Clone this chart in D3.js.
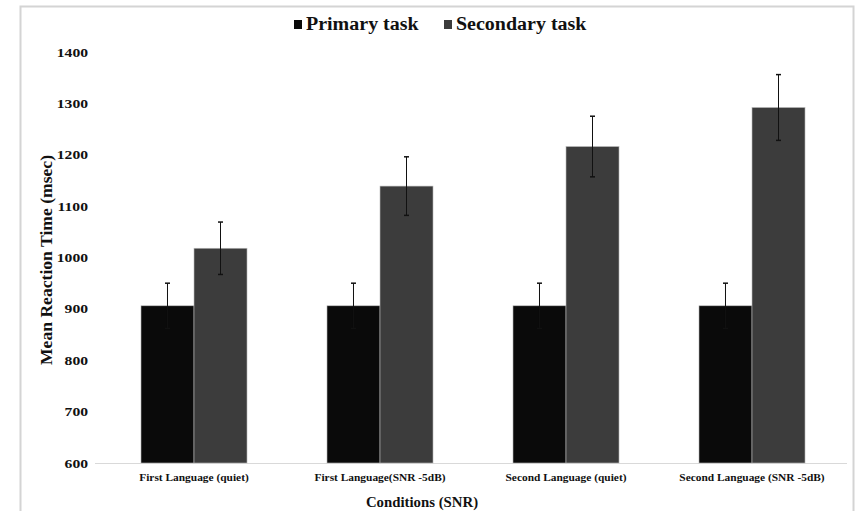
<!DOCTYPE html>
<html>
<head>
<meta charset="utf-8">
<script src="https://cdn.jsdelivr.net/npm/d3@7"></script>
<style>
  body { margin: 0; background: #fff; }
  svg text { font-family: "Liberation Serif", "Times New Roman", Tinos, "DejaVu Serif", "Noto Serif", serif !important; font-weight: bold; fill: #111; }
</style>
</head>
<body>
<div id="chart"></div>
<script>
// data
var categories = ['First Language (quiet)', 'First Language(SNR -5dB)', 'Second Language (quiet)', 'Second Language (SNR -5dB)'];
var seriesNames = ['Primary task', 'Secondary task'];
var primary = [906, 906, 906, 906];
var primaryErr = [44, 44, 44, 44];
var secondary = [1018, 1139, 1216, 1292];
var secondaryErr = [51, 57, 59, 64];
var yTicks = [600, 700, 800, 900, 1000, 1100, 1200, 1300, 1400];
var colors = ['#0a0a0a', '#3c3c3c'];

var W = 862, H = 511;
var svg = d3.select('#chart').append('svg')
    .attr('width', W)
    .attr('height', H);

// stretch text a bit wider, the source font is drawn wide
function stretch(sel, k) {
    sel.each(function() {
        var w = this.getComputedTextLength();
        d3.select(this).attr('textLength', w * k).attr('lengthAdjust', 'spacingAndGlyphs');
    });
}

// outer frame
svg.append('rect')
    .attr('x', 20.5).attr('y', 6.5)
    .attr('width', 833).attr('height', 520)
    .attr('fill', 'none')
    .attr('stroke', '#d4d4d4')
    .attr('stroke-width', 2);

var margin = {top: 52, right: 17, bottom: 48, left: 101};
var width = W - margin.left - margin.right;
var height = H - margin.top - margin.bottom;

var x = d3.scaleBand().domain(categories).range([0, width]).paddingInner(0.43).paddingOuter(0.215);
var xs = d3.scaleBand().domain(seriesNames).range([0, x.bandwidth()]);
var y = d3.scaleLinear().domain([600, 1400]).range([height, 0]);

var g = svg.append('g').attr('transform', 'translate(' + margin.left + ',' + margin.top + ')');

// baseline
g.append('line')
    .attr('x1', -6).attr('x2', width + 2)
    .attr('y1', y(600) + 0.5).attr('y2', y(600) + 0.5)
    .attr('stroke', '#d9d9d9');

// y axis, labels only
var yAxis = g.append('g')
    .call(d3.axisLeft(y).tickValues(yTicks).tickSize(0).tickPadding(13).tickFormat(d3.format('d')));
yAxis.select('.domain').remove();
yAxis.selectAll('text')
    .style('font-size', '12.5px')
    .attr('fill', '#111');
stretch(yAxis.selectAll('text'), 1.25);

var rows = categories.map(function(c, i) {
    return [
        {cat: c, s: seriesNames[0], v: primary[i], e: primaryErr[i], c: colors[0]},
        {cat: c, s: seriesNames[1], v: secondary[i], e: secondaryErr[i], c: colors[1]}
    ];
});
var flat = [].concat.apply([], rows);

g.selectAll('.bar')
    .data(flat)
    .enter().append('rect')
      .attr('class', 'bar')
      .attr('x', function(d) { return x(d.cat) + xs(d.s); })
      .attr('y', function(d) { return y(d.v); })
      .attr('width', xs.bandwidth())
      .attr('height', function(d) { return y(600) - y(d.v); })
      .attr('fill', function(d) { return d.c; })
      .attr('stroke', '#bbb')
      .attr('stroke-width', 0.6);

// error bars
var eb = g.selectAll('.err')
    .data(flat)
    .enter().append('g')
      .attr('class', 'err')
      .attr('transform', function(d) { return 'translate(' + (x(d.cat) + xs(d.s) + xs.bandwidth() / 2) + ',0)'; });
eb.append('line')
    .attr('y1', function(d) { return y(d.v - d.e); })
    .attr('y2', function(d) { return y(d.v + d.e); })
    .attr('stroke', '#111')
    .attr('stroke-width', 1);
eb.selectAll('.cap')
    .data(function(d) { return [d.v - d.e, d.v + d.e]; })
    .enter().append('line')
      .attr('class', 'cap')
      .attr('x1', -2.5).attr('x2', 2.5)
      .attr('y1', function(v) { return y(v); })
      .attr('y2', function(v) { return y(v); })
      .attr('stroke', '#111')
      .attr('stroke-width', 1.5);

// x labels
var xl = g.selectAll('.xlab')
    .data(categories)
    .enter().append('text')
      .attr('class', 'xlab')
      .attr('x', function(d) { return x(d) + x.bandwidth() / 2; })
      .attr('y', height + 18)
      .attr('text-anchor', 'middle')
      .style('font-size', '10px')
      .text(function(d) { return d; });
stretch(xl, 1.14);

// axis titles
var xt = svg.append('text')
    .attr('x', 422).attr('y', 507)
    .attr('text-anchor', 'middle')
    .style('font-size', '14.5px')
    .text('Conditions (SNR)');
stretch(xt, 1.02);

var yt = svg.append('text')
    .attr('transform', 'translate(52,260) rotate(-90)')
    .attr('text-anchor', 'middle')
    .style('font-size', '16px')
    .text('Mean Reaction Time (msec)');
stretch(yt, 1.1);

// legend
var legend = svg.append('g').attr('transform', 'translate(294,27)');
var lx = [0, 150];
seriesNames.forEach(function(s, i) {
    var item = legend.append('g').attr('transform', 'translate(' + lx[i] + ',0)');
    item.append('rect')
        .attr('x', 0).attr('y', -7)
        .attr('width', 8).attr('height', 9)
        .attr('fill', colors[i]);
    var t = item.append('text')
        .attr('x', 12).attr('y', 3)
        .style('font-size', '18px')
        .text(s);
    stretch(t, 1.11);
});
</script>
</body>
</html>
